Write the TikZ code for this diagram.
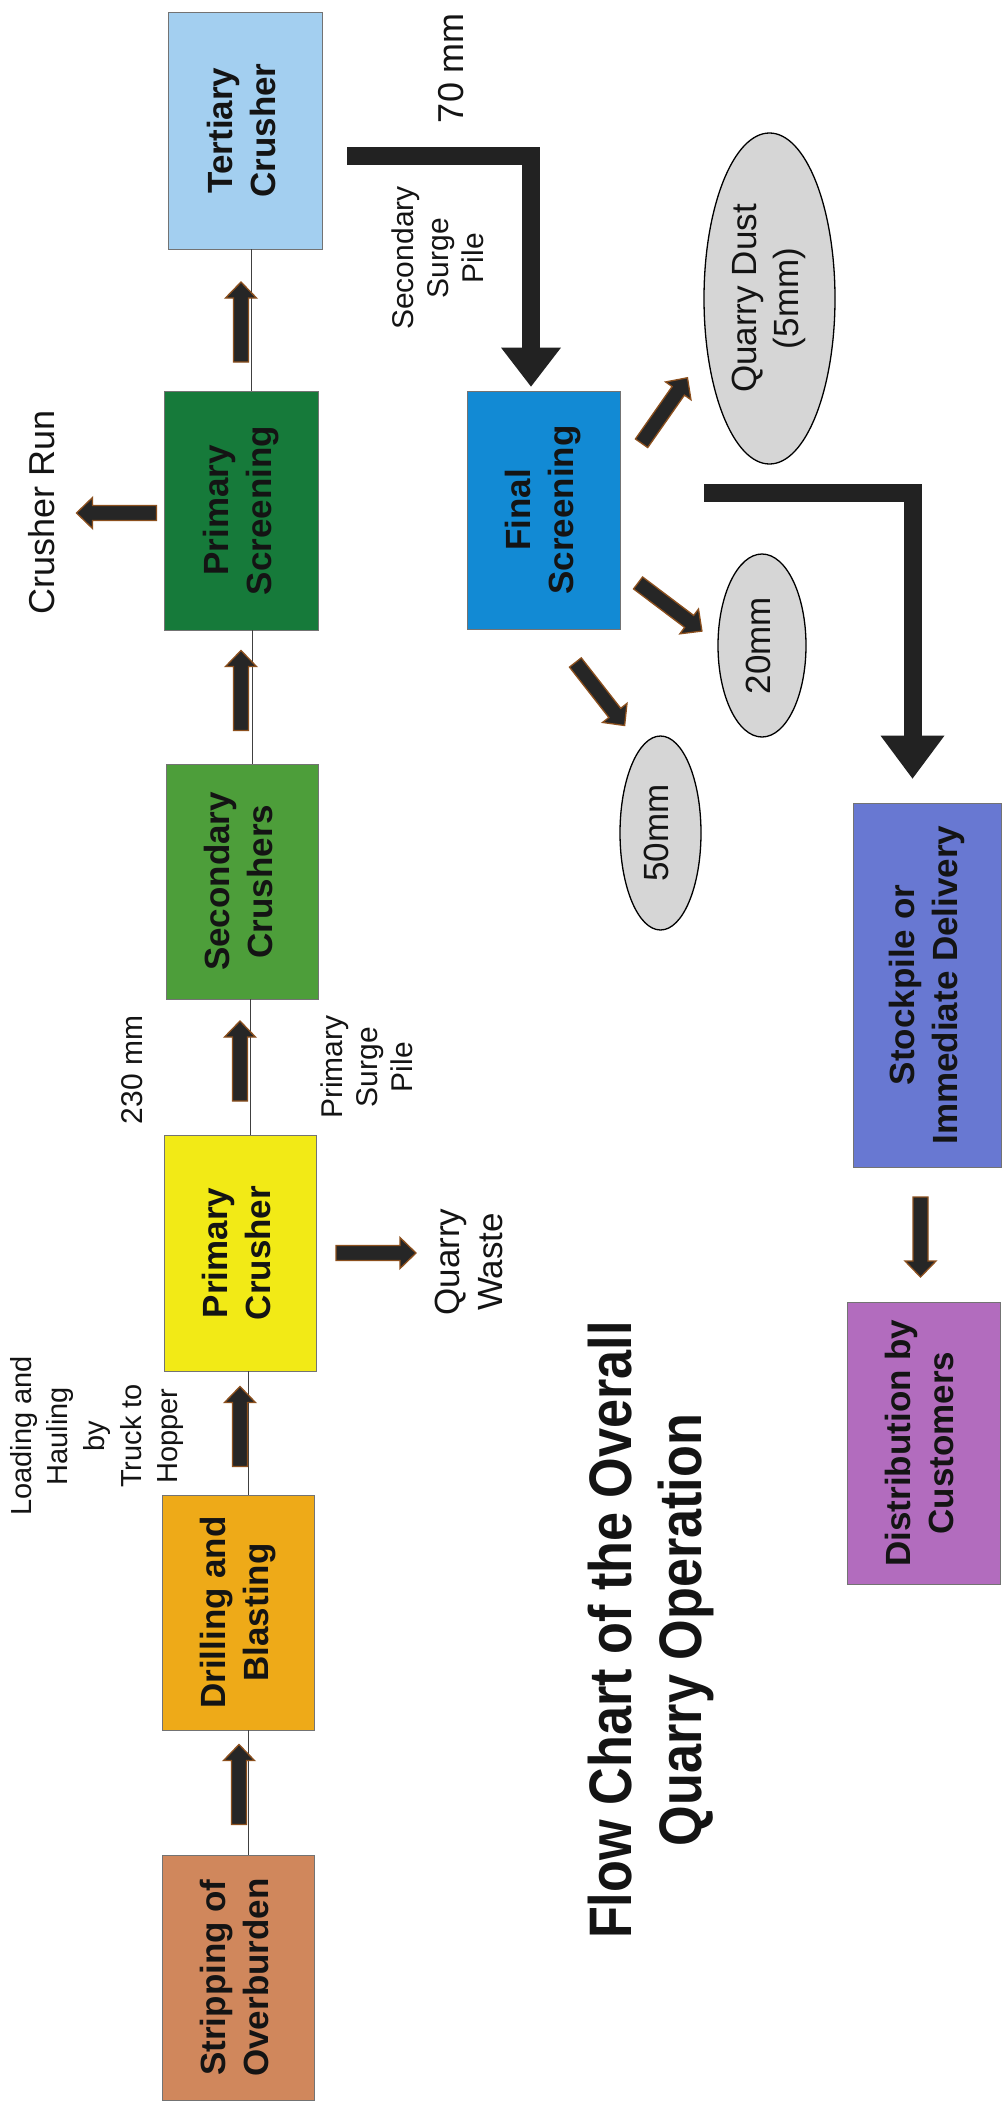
\documentclass[tikz,border=0pt]{standalone}
\usepackage{fontspec}
\setmainfont{Liberation Sans}
\newfontfamily\titlefont[FakeStretch=0.87]{Liberation Sans}
\usetikzlibrary{shapes.geometric,calc}
\definecolor{cTC}{RGB}{163,207,240}
\definecolor{cPS}{RGB}{22,122,58}
\definecolor{cSC}{RGB}{77,158,58}
\definecolor{cPC}{RGB}{242,234,22}
\definecolor{cDB}{RGB}{238,170,24}
\definecolor{cSO}{RGB}{208,135,92}
\definecolor{cFS}{RGB}{18,138,212}
\definecolor{cST}{RGB}{104,120,210}
\definecolor{cDI}{RGB}{178,108,190}
\definecolor{cEL}{RGB}{214,214,214}
\definecolor{cAR}{RGB}{38,38,38}
\definecolor{cAB}{RGB}{140,80,30}
\definecolor{cBig}{RGB}{34,34,34}
\newcommand{\rtxt}[1]{\rotatebox{90}{\begin{tabular}{@{}c@{}}#1\end{tabular}}}
\begin{document}
\begin{tikzpicture}[x=1pt,y=-1pt,
 box/.style={rectangle, draw=black!55, line width=0.8pt, inner sep=0pt, text=black!92, font=\bfseries\fontsize{35}{43}\selectfont},
 oval/.style={ellipse, draw=black, line width=1.3pt, fill=cEL, inner sep=0pt, text=black!92, font=\fontsize{35}{42}\selectfont},
 link/.style={draw=black!75, line width=0.9pt},
 big/.style={draw=cBig, line width=18pt, line join=miter, line cap=butt},
 bighead/.style={fill=cBig},
 lbl/.style={inner sep=0pt, text=black!92, align=center, rotate=90},
 blockarrow/.pic={\filldraw[draw=cAB, fill=cAR, line width=1.3pt, line join=miter]
   (-40,-7.5) -- (24,-7.5) -- (24,-15.5) -- (40,0) -- (24,15.5) -- (24,7.5) -- (-40,7.5) -- cycle;}
]
\useasboundingbox (0,0) rectangle (1001,2111);
\fill[white] (0,0) rectangle (1001,2111);

% main column boxes
\node[box, fill=cTC, minimum width=154pt, minimum height=237pt] (tc) at (245,130.5) {\rtxt{Tertiary\\Crusher}};
\node[box, fill=cPS, minimum width=154pt, minimum height=239pt] (ps) at (241,510.5) {\rtxt{Primary\\Screening}};
\node[box, fill=cSC, minimum width=152pt, minimum height=235pt] (sc) at (242,881.5) {\rtxt{Secondary\\Crushers}};
\node[box, fill=cPC, minimum width=152pt, minimum height=236pt] (pc) at (240,1253) {\rtxt{Primary\\Crusher}};
\node[box, fill=cDB, minimum width=152pt, minimum height=235pt] (db) at (238,1612.5) {\rtxt{Drilling and\\Blasting}};
\node[box, fill=cSO, minimum width=152pt, minimum height=245pt] (so) at (238,1977.5) {\rtxt{Stripping of\\Overburden}};
% right side boxes
\node[box, fill=cFS, minimum width=153pt, minimum height=238pt] (fs) at (543.5,510) {\rtxt{Final\\Screening}};
\node[box, fill=cST, minimum width=148pt, minimum height=364pt] (stock) at (927,985) {\rtxt{Stockpile or\\Immediate Delivery}};
\node[box, fill=cDI, minimum width=153pt, minimum height=282pt] (dist) at (923.5,1443) {\rtxt{Distribution by\\Customers}};
% products
\node[oval, minimum width=131pt, minimum height=331pt] (qd) at (769.5,298.5) {\rtxt{Quarry Dust\\(5mm)}};
\node[oval, minimum width=88pt, minimum height=183pt] (e20) at (762,645.5) {\rtxt{20mm}};
\node[oval, minimum width=81pt, minimum height=194pt] (e50) at (660.5,833) {\rtxt{50mm}};

% thin links of the main column
\draw[link] ([xshift=10pt]ps.north) -- ([xshift=10pt]ps.north |- tc.south);
\draw[link] ([xshift=10pt]sc.north) -- ([xshift=10pt]sc.north |- ps.south);
\draw[link] ([xshift=10pt]pc.north) -- ([xshift=10pt]pc.north |- sc.south);
\draw[link] ([xshift=10pt]db.north) -- ([xshift=10pt]db.north |- pc.south);
\draw[link] ([xshift=10pt]so.north) -- ([xshift=10pt]so.north |- db.south);

% block arrows
\pic[rotate=90] at (241,322) {blockarrow};
\pic[rotate=90] at (241,690.5) {blockarrow};
\pic[rotate=90] at (240,1061) {blockarrow};
\pic[rotate=90] at (240,1426.5) {blockarrow};
\pic[rotate=90] at (239,1784.5) {blockarrow};
\pic[rotate=180] at (116.5,513) {blockarrow};
\pic[rotate=0] at (376,1253) {blockarrow};
\pic[rotate=55] at (664.5,410.5) {blockarrow};
\pic[rotate=-37] at (670,607) {blockarrow};
\pic[rotate=-52] at (600,694) {blockarrow};
\pic[rotate=-90] at (920.5,1237) {blockarrow};

% big L arrows
\coordinate (b1s) at ($(tc.east)+(25,26)$);
\coordinate (b1h) at ($(fs.north)+(-12.5,-43)$);
\draw[big] (b1s) -| (b1h);
\fill[bighead] ($(b1h)+(-30,0)$) -- ($(b1h)+(30,0)$) -- ($(fs.north)+(-12.5,-4)$) -- cycle;
\coordinate (b2s) at ($(fs.east)+(84,-17)$);
\coordinate (b2h) at ($(stock.north)+(-14.5,-67)$);
\draw[big] (b2s) -| (b2h);
\fill[bighead] ($(b2h)+(-32,0)$) -- ($(b2h)+(32,0)$) -- ($(stock.north)+(-14.5,-24)$) -- cycle;

% labels
\node[lbl, font=\fontsize{36}{43}\selectfont] (crun) at (41.5,512) {Crusher Run};
\node[lbl, font=\fontsize{36}{43}\selectfont] (l70) at (451,68) {70 mm};
\node[lbl, font=\fontsize{30}{35}\selectfont] (ssp) at (438,258) {Secondary\\Surge\\Pile};
\node[lbl, font=\fontsize{30}{35}\selectfont] (l230) at (132,1070) {230 mm};
\node[lbl, font=\fontsize{30}{35}\selectfont] (psp) at (367,1067) {Primary\\Surge\\Pile};
\node[lbl, font=\fontsize{35}{43}\selectfont] (qw) at (469,1262) {Quarry\\Waste};
\node[lbl, font=\fontsize{29}{36.7}\selectfont] (lh) at (97,1436) {Loading and\\Hauling\\by\\Truck to\\Hopper};
\node[lbl, font=\titlefont\bfseries\fontsize{60}{70}\selectfont] (ttl) at (651,1630) {Flow Chart of the Overall\\Quarry Operation};
\end{tikzpicture}
\end{document}
